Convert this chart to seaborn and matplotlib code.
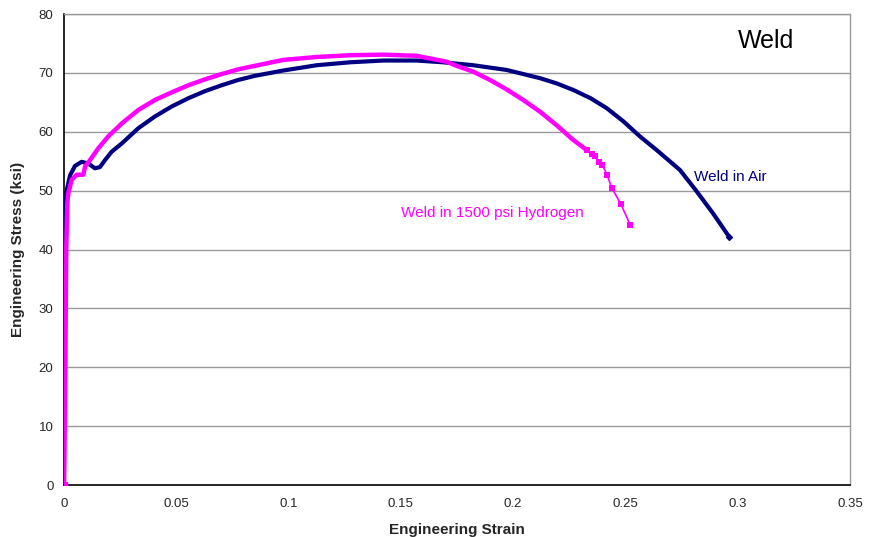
import matplotlib
matplotlib.use("Agg")
import matplotlib.pyplot as plt
from matplotlib.ticker import MultipleLocator
import numpy as np
import pandas as pd
import seaborn as sns

# Weld tested in air
air_strain = [0.0, 0.0003, 0.0005, 0.0008, 0.0012, 0.0027, 0.0049, 0.0079, 0.0108,
              0.0138, 0.016, 0.0183, 0.0212, 0.0257, 0.0331, 0.0405, 0.048, 0.0554,
              0.0628, 0.0702, 0.0776, 0.085, 0.0976, 0.1125, 0.1274, 0.1422, 0.157,
              0.1689, 0.1823, 0.1971, 0.212, 0.2195, 0.2268, 0.2345, 0.2417, 0.249,
              0.2565, 0.2639, 0.2743, 0.2813, 0.2891, 0.2963]
air_stress = [0.0, 20.0, 40.0, 48.0, 50.0, 52.6, 54.2, 54.9, 54.6,
              53.8, 54.0, 55.2, 56.6, 58.0, 60.6, 62.6, 64.3, 65.7,
              66.9, 67.9, 68.8, 69.5, 70.4, 71.3, 71.8, 72.1, 72.1,
              71.8, 71.3, 70.5, 69.1, 68.2, 67.1, 65.7, 64.0, 61.8,
              59.2, 56.9, 53.5, 50.1, 46.1, 42.1]

# Weld tested in 1500 psi hydrogen
h2_strain = [0.0, 0.0006, 0.0010, 0.0015, 0.0019, 0.0034, 0.0056, 0.0086, 0.0094,
             0.0116, 0.0153, 0.0197, 0.0257, 0.0331, 0.0405, 0.048, 0.0554, 0.0628,
             0.0702, 0.0776, 0.085, 0.0976, 0.1125, 0.1274, 0.1422, 0.157, 0.1704,
             0.1748, 0.1823, 0.1897, 0.1971, 0.2045, 0.212, 0.2194, 0.2268, 0.2328]
h2_stress = [0.0, 20.0, 40.0, 48.0, 49.5, 51.8, 52.7, 52.7, 54.1,
             55.2, 57.2, 59.2, 61.4, 63.7, 65.4, 66.7, 67.9, 68.9,
             69.8, 70.6, 71.2, 72.2, 72.7, 73.0, 73.1, 72.9, 71.9,
             71.2, 70.2, 68.8, 67.2, 65.4, 63.4, 61.1, 58.6, 56.9]

# sparse tail of the hydrogen test, where single points are visible
h2_tail_strain = [0.2328, 0.2350, 0.2365, 0.2384, 0.2397, 0.2418, 0.2439, 0.2480, 0.2521]
h2_tail_stress = [56.9, 56.3, 55.8, 54.9, 54.4, 52.7, 50.5, 47.7, 44.2]

NAVY = "#000080"
MAGENTA = "#FF00FF"

sns.set_style("white")
plt.rcParams["font.family"] = ["Liberation Sans", "DejaVu Sans"]

air = pd.DataFrame({"strain": air_strain, "stress": air_stress})
h2 = pd.DataFrame({"strain": h2_strain, "stress": h2_stress})
tail = pd.DataFrame({"strain": h2_tail_strain, "stress": h2_tail_stress})

fig = plt.figure(figsize=(8.74, 5.37), dpi=100)
ax = fig.add_axes([0.0732, 0.0968, 0.8993, 0.8771])

for y in range(10, 90, 10):
    ax.axhline(y, color="#999999", linewidth=1, zorder=1)

sns.lineplot(data=air, x="strain", y="stress", sort=False, estimator=None,
             color=NAVY, linewidth=3, solid_joinstyle="round", ax=ax, zorder=3)
sns.lineplot(data=h2, x="strain", y="stress", sort=False, estimator=None,
             color=MAGENTA, linewidth=3.2, solid_joinstyle="round", ax=ax, zorder=4)
sns.lineplot(data=tail, x="strain", y="stress", sort=False, estimator=None,
             color=MAGENTA, linewidth=1.2, marker="s", markersize=4,
             markeredgewidth=0, ax=ax, zorder=4)
ax.plot([air_strain[-1]], [air_stress[-1]], marker="D", markersize=3,
        color=NAVY, zorder=5)
ax.plot([0], [0], marker="s", markersize=4, color=MAGENTA, zorder=6)

ax.set_xlim(0, 0.35)
ax.set_ylim(0, 80)
ax.xaxis.set_major_locator(MultipleLocator(0.05))
ax.xaxis.set_minor_locator(MultipleLocator(0.01))
ax.yaxis.set_major_locator(MultipleLocator(10))
ax.yaxis.set_minor_locator(MultipleLocator(2))
ax.set_xticks([0, 0.05, 0.1, 0.15, 0.2, 0.25, 0.3, 0.35])
ax.set_xticklabels(["0", "0.05", "0.1", "0.15", "0.2", "0.25", "0.3", "0.35"])
ax.tick_params(which="major", direction="inout", length=7, width=1, labelsize=9.5,
               color="black", pad=4)
ax.tick_params(which="minor", direction="out", length=3, width=1, color="black")
ax.tick_params(axis="x", which="major", pad=6)

for side in ["left", "bottom"]:
    ax.spines[side].set_color("black")
    ax.spines[side].set_linewidth(1.2)
for side in ["right", "top"]:
    ax.spines[side].set_color("#999999")
    ax.spines[side].set_linewidth(1)

ax.set_xlabel("Engineering Strain", fontsize=11, fontweight="bold", labelpad=9)
ax.set_ylabel("Engineering Stress (ksi)", fontsize=11, fontweight="bold", labelpad=10)

ax.text(0.300, 74.2, "Weld", fontsize=18, color="black")
ax.text(0.2805, 51.6, "Weld in Air", fontsize=11, color=NAVY)
ax.text(0.150, 45.6, "Weld in 1500 psi Hydrogen", fontsize=11, color=MAGENTA)

fig.savefig("out.png", dpi=100)
